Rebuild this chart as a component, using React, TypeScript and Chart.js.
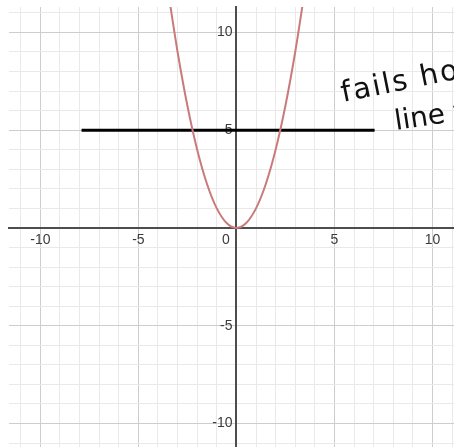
import React, { useEffect, useRef } from "react";
import { Chart, registerables } from "chart.js";

Chart.register(...registerables);

// y = x^2
const curveX = [-3.4, -3, -2.5, -2, -1.5, -1, -0.5, 0, 0.5, 1, 1.5, 2, 2.5, 3, 3.4];
const curveY = [11.56, 9, 6.25, 4, 2.25, 1, 0.25, 0, 0.25, 1, 2.25, 4, 6.25, 9, 11.56];

// hand-drawn horizontal line at y = 5
const hLineX = [-7.9, 7.05];
const hLineY = [5, 5];

// axis ranges and tick labels
const xRange = [-11.6, 11.1];
const yRange = [-11.2, 11.3];
const labelTicks = [-10, -5, 5, 10];

// handwritten note
const noteLines = ["fails horizontal", "line test"];

const AXIS = "#4d4d4d";
const MAJOR = "#cdcdcd";
const MINOR = "#e9e9e9";

const gridColor = (ctx: any) => {
  const v = ctx.tick ? ctx.tick.value : NaN;
  if (v === 0) return "rgba(0,0,0,0)";
  return Math.abs(v % 5) < 1e-9 ? MAJOR : MINOR;
};

const notePlugin = {
  id: "note",
  afterDatasetsDraw(chart: any) {
    const c = chart.ctx;
    c.save();
    c.fillStyle = "#111";
    c.font = '29px "DejaVu Sans"';
    c.textBaseline = "alphabetic";
    (c as any).letterSpacing = "2px";
    c.translate(343, 102);
    c.rotate(-0.2);
    c.fillText(noteLines[0], 0, 0);
    c.restore();
    c.save();
    c.fillStyle = "#111";
    c.font = '28px "DejaVu Sans"';
    c.translate(396, 130);
    c.rotate(-0.15);
    c.fillText(noteLines[1], 0, 0);
    c.restore();
  },
};

export default function App() {
  const ref = useRef<HTMLCanvasElement>(null);
  useEffect(() => {
    if (!ref.current) return;
    const chart = new Chart(ref.current, {
      type: "scatter",
      data: {
        datasets: [
          {
            data: curveX.map((x, i) => ({ x, y: curveY[i] })),
            showLine: true,
            borderColor: "#c97b7c",
            borderWidth: 2,
            pointRadius: 0,
            cubicInterpolationMode: "monotone",
          },
          {
            data: hLineX.map((x, i) => ({ x, y: hLineY[i] })),
            showLine: true,
            borderColor: "#000",
            borderWidth: 3,
            pointRadius: 0,
          },
        ],
      },
      options: {
        animation: false,
        responsive: false,
        devicePixelRatio: 1,
        layout: { autoPadding: false, padding: { left: 9, top: 7, right: 0, bottom: 0 } } as any,
        plugins: { legend: { display: false }, tooltip: { enabled: false } },
        scales: {
          x: {
            type: "linear",
            min: xRange[0],
            max: xRange[1],
            position: { y: 0 } as any,
            border: { display: true, color: AXIS, width: 2 },
            grid: { color: gridColor, lineWidth: 1, drawTicks: false },
            ticks: {
              stepSize: 1,
              includeBounds: false,
              autoSkip: false,
              maxRotation: 0,
              padding: 0,
              color: "#3a3a3a",
              font: { family: '"Liberation Sans", Arial', size: 14, lineHeight: 1.75 },
              callback: (v: any) =>
                v === 0 ? "0\u2003\u2002" : labelTicks.includes(v) ? String(v) : "",
            },
          },
          y: {
            type: "linear",
            min: yRange[0],
            max: yRange[1],
            position: { x: 0 } as any,
            border: { display: true, color: AXIS, width: 2 },
            grid: { color: gridColor, lineWidth: 1, drawTicks: false },
            ticks: {
              stepSize: 1,
              includeBounds: false,
              autoSkip: false,
              padding: 0,
              color: "#3a3a3a",
              font: { family: '"Liberation Sans", Arial', size: 14, lineHeight: 0.01 },
              callback: (v: any) => (labelTicks.includes(v) ? String(v) + " " : ""),
            },
          },
        },
      },
      plugins: [notePlugin],
    });
    return () => chart.destroy();
  }, []);
  return (
    <div style={{ position: "absolute", left: 0, top: 0, width: 454, height: 447, overflow: "hidden", background: "#fff" }}>
      <canvas ref={ref} width={454} height={447} style={{ display: "block" }} />
    </div>
  );
}
